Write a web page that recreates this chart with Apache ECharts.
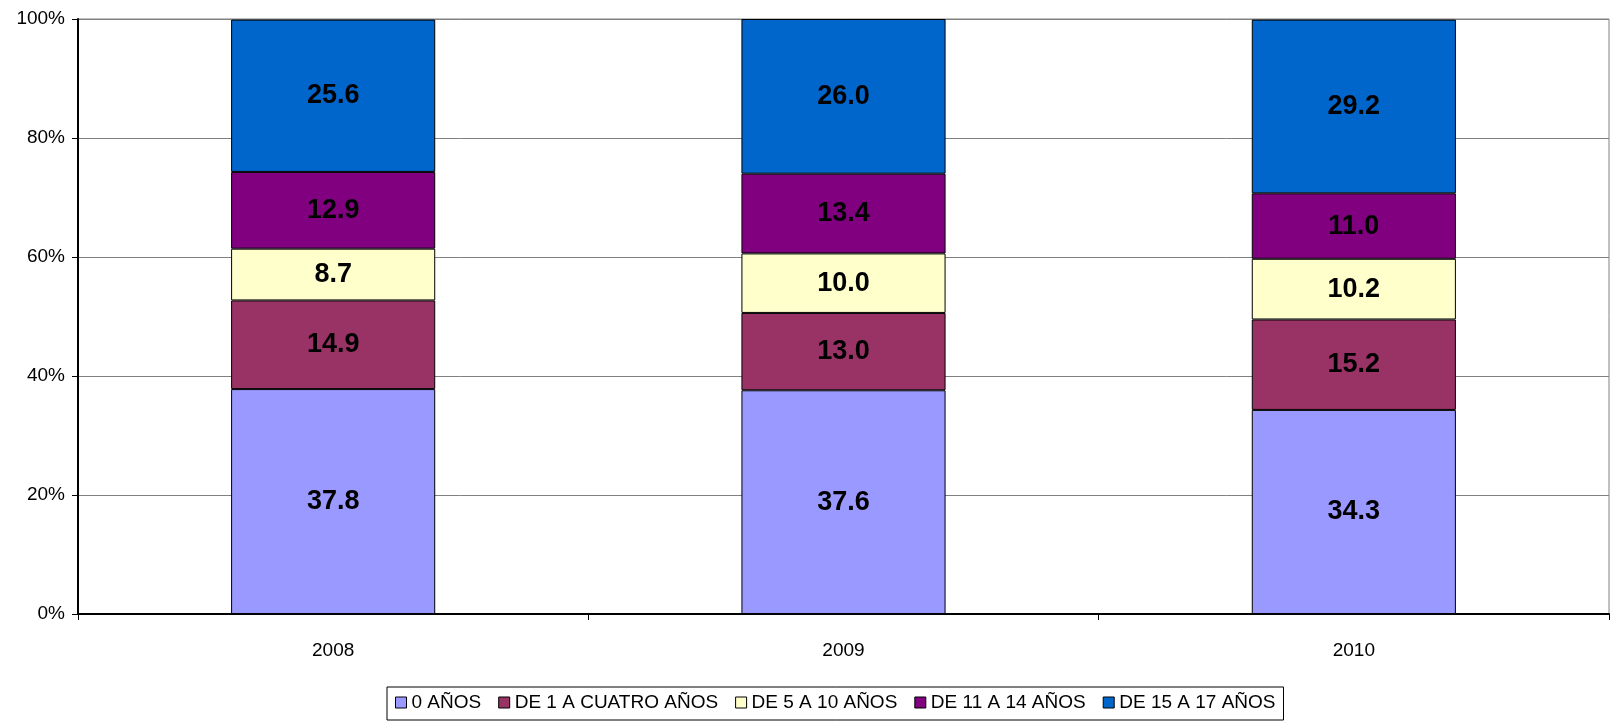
<!DOCTYPE html>
<html>
<head>
<meta charset="utf-8">
<script src="https://cdn.jsdelivr.net/npm/echarts@6/dist/echarts.min.js"></script>
<style>
    html, body { margin: 0; padding: 0; background: #fff; }
    #chart { width: 1614px; height: 721px; }
</style>
</head>
<body>
<div id="chart"></div>
<script>
// datos
var years = ['2008', '2009', '2010'];
var seriesNames = ['0 AÑOS', 'DE 1 A CUATRO AÑOS', 'DE 5 A 10 AÑOS', 'DE 11 A 14 AÑOS', 'DE 15 A 17 AÑOS'];
var age0 = [37.8, 37.6, 34.3];
var age1to4 = [14.9, 13.0, 15.2];
var age5to10 = [8.7, 10.0, 10.2];
var age11to14 = [12.9, 13.4, 11.0];
var age15to17 = [25.6, 26.0, 29.2];
var yTicks = [0, 20, 40, 60, 80, 100];

(function () {
    var myChart = echarts.init(document.getElementById('chart'));
    var colors = ['#9999FF', '#993366', '#FFFFCC', '#800080', '#0066CC'];
    var values = [age0, age1to4, age5to10, age11to14, age15to17];

    var series = [];
    for (var i = 0; i < seriesNames.length; i++) {
        series.push({
            name: seriesNames[i],
            type: 'bar',
            stack: 'total',
            barWidth: '40%',
            data: values[i],
            itemStyle: {
                color: colors[i],
                borderColor: '#000',
                borderWidth: 1
            },
            label: {
                show: true,
                position: 'inside',
                color: '#000',
                fontWeight: 'bold',
                fontSize: 27,
                fontFamily: 'Liberation Sans, Arial',
                formatter: function (p) { return p.value.toFixed(1); }
            }
        });
    }

    var option = {
        animation: false,
        textStyle: { fontFamily: 'Liberation Sans, Arial' },
        grid: {
            left: 78,
            right: 5,
            top: 19,
            bottom: 107,
            show: true,
            borderColor: '#808080',
            borderWidth: 1
        },
        legend: {
            top: 687,
            left: 387,
            itemWidth: 11,
            itemHeight: 11,
            itemGap: 17,
            padding: [6, 8, 8, 8],
            borderColor: '#000',
            borderWidth: 1,
            icon: 'rect',
            itemStyle: { borderColor: '#000', borderWidth: 1 },
            textStyle: { fontSize: 19, color: '#000' },
            data: seriesNames
        },
        xAxis: {
            type: 'category',
            data: years,
            axisLine: { lineStyle: { color: '#000', width: 2 } },
            axisTick: { show: true, length: 6, lineStyle: { color: '#000' } },
            axisLabel: { color: '#000', fontSize: 19, margin: 27 }
        },
        yAxis: {
            type: 'value',
            min: 0,
            max: 100,
            interval: 20,
            axisLine: { show: true, lineStyle: { color: '#000', width: 2 } },
            axisTick: { show: true, length: 6, lineStyle: { color: '#000' } },
            axisLabel: {
                color: '#000',
                fontSize: 19,
                margin: 13,
                formatter: function (v) { return yTicks.indexOf(v) >= 0 ? v + '%' : ''; }
            },
            splitLine: { lineStyle: { color: '#808080', width: 1 } }
        },
        series: series
    };

    myChart.setOption(option);

    window.addEventListener('resize', function () {
        myChart.resize();
    });
})();
</script>
</body>
</html>
